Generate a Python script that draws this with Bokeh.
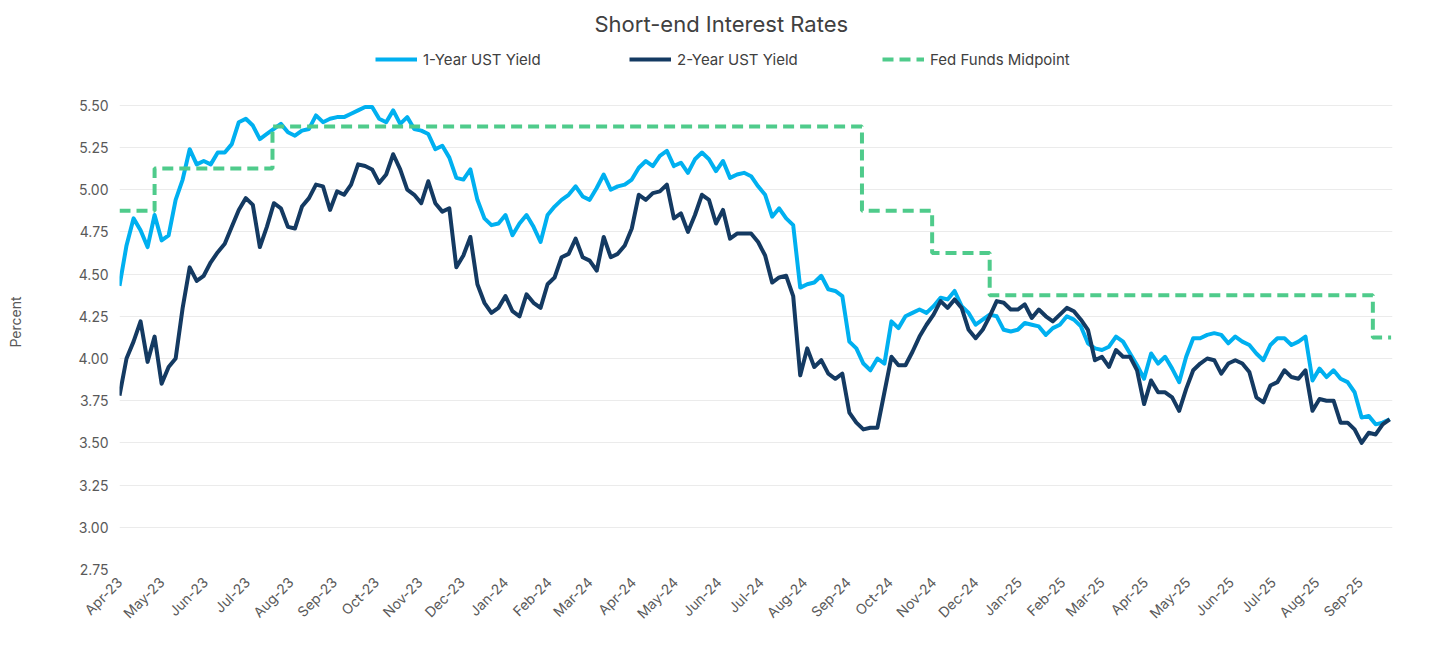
from math import pi
import pandas as pd
from bokeh.plotting import figure
from bokeh.layouts import row
from bokeh.models import (Range1d, FixedTicker, DatetimeTickFormatter, NumeralTickFormatter,
                          Legend, LegendItem, Label)
from bokeh.embed import file_html
from bokeh.resources import INLINE

# ---------------- data ----------------
START_DATE = "2023-04-08"   # first sample
STEP_DAYS = 5               # one reading every 5 calendar days

ONE_YEAR = [
    4.43, 4.67, 4.83, 4.76, 4.66, 4.85, 4.70, 4.73, 4.94, 5.06,
    5.24, 5.15, 5.17, 5.15, 5.22, 5.22, 5.27, 5.40, 5.42, 5.38,
    5.30, 5.33, 5.36, 5.39, 5.34, 5.32, 5.35, 5.36, 5.44, 5.40,
    5.42,
    5.43, 5.43, 5.45, 5.47, 5.49, 5.49, 5.42, 5.40, 5.47, 5.39,
    5.43, 5.36, 5.35, 5.33, 5.24, 5.26, 5.19, 5.07, 5.06, 5.12,
    4.94, 4.83, 4.79, 4.80, 4.85, 4.73, 4.80, 4.85, 4.78, 4.69,
    4.85,
    4.90, 4.94, 4.97, 5.02, 4.96, 4.94, 5.01, 5.09, 5.00, 5.02,
    5.03, 5.06, 5.13, 5.17, 5.14, 5.20, 5.23, 5.14, 5.16, 5.10,
    5.18, 5.22, 5.18, 5.11, 5.17, 5.07, 5.09, 5.10, 5.08,
    5.02,
    4.97, 4.84, 4.89, 4.83, 4.79, 4.42, 4.44, 4.45, 4.49, 4.41,
    4.40, 4.37, 4.10, 4.06, 3.97, 3.93, 4.00, 3.97, 4.22, 4.18,
    4.25, 4.27, 4.29, 4.27, 4.31, 4.36, 4.35, 4.40, 4.31, 4.27,
    4.20,
    4.23, 4.26, 4.25, 4.17, 4.16, 4.17, 4.21, 4.20, 4.19, 4.14,
    4.18, 4.20, 4.25, 4.23, 4.19, 4.09, 4.06, 4.05, 4.07, 4.13,
    4.10, 4.03, 3.96, 3.88, 4.03, 3.97, 4.01, 3.94, 3.86,
    4.01,
    4.12, 4.12, 4.14, 4.15, 4.14, 4.09, 4.13, 4.10, 4.08, 4.03,
    3.99, 4.08, 4.12, 4.12, 4.08, 4.10, 4.13, 3.87, 3.94, 3.89,
    3.93, 3.88, 3.86, 3.80, 3.65, 3.66, 3.61, 3.62, 3.64,
]

TWO_YEAR = [
    3.78, 4.00, 4.10, 4.22, 3.98, 4.13, 3.85, 3.95, 4.00, 4.30,
    4.54, 4.46, 4.49, 4.57, 4.63, 4.68, 4.78, 4.88, 4.95, 4.91,
    4.66, 4.78, 4.92, 4.89, 4.78, 4.77, 4.90, 4.95, 5.03, 5.02,
    4.88,
    4.99, 4.97, 5.03, 5.15, 5.14, 5.12, 5.04, 5.09, 5.21, 5.12,
    5.00, 4.97, 4.92, 5.05, 4.92, 4.87, 4.89, 4.54, 4.61, 4.72,
    4.44, 4.33, 4.27, 4.30, 4.37, 4.28, 4.25, 4.38, 4.33, 4.30,
    4.44,
    4.48, 4.60, 4.62, 4.71, 4.60, 4.58, 4.52, 4.72, 4.60, 4.62,
    4.67, 4.77, 4.97, 4.94, 4.98, 4.99, 5.03, 4.83, 4.86, 4.75,
    4.85, 4.97, 4.94, 4.80, 4.88, 4.71, 4.74, 4.74, 4.74,
    4.69,
    4.61, 4.45, 4.48, 4.49, 4.37, 3.90, 4.06, 3.95, 3.99, 3.91,
    3.88, 3.91, 3.68, 3.62, 3.58, 3.59, 3.59, 3.80, 4.01, 3.96,
    3.96, 4.04, 4.13, 4.20, 4.26, 4.34, 4.30, 4.35, 4.30, 4.17,
    4.12,
    4.17, 4.25, 4.34, 4.33, 4.29, 4.29, 4.32, 4.24, 4.29, 4.25,
    4.22, 4.26, 4.30, 4.28, 4.23, 4.17, 3.99, 4.01, 3.95, 4.05,
    4.01, 4.01, 3.93, 3.73, 3.87, 3.80, 3.80, 3.77, 3.69,
    3.82,
    3.93, 3.97, 4.00, 3.99, 3.91, 3.97, 3.99, 3.97, 3.92, 3.77,
    3.74, 3.84, 3.86, 3.93, 3.89, 3.88, 3.93, 3.69, 3.76, 3.75,
    3.75, 3.62, 3.62, 3.58, 3.50, 3.56, 3.55, 3.61, 3.64,
]

FED_DATES = ["2023-04-08", "2023-05-03", "2023-07-26", "2024-09-18",
             "2024-11-07", "2024-12-18", "2025-09-17", "2025-09-30"]
FED_MID = [4.875, 5.125, 5.375, 4.875, 4.625, 4.375, 4.125, 4.125]

TICK_LABELS = ["Apr-23", "May-23", "Jun-23", "Jul-23", "Aug-23", "Sep-23",
               "Oct-23", "Nov-23", "Dec-23", "Jan-24", "Feb-24", "Mar-24",
               "Apr-24", "May-24", "Jun-24", "Jul-24", "Aug-24", "Sep-24",
               "Oct-24", "Nov-24", "Dec-24", "Jan-25", "Feb-25", "Mar-25",
               "Apr-25", "May-25", "Jun-25", "Jul-25", "Aug-25", "Sep-25"]
TICK_DAY = 8
Y_TICKS = [2.75, 3.00, 3.25, 3.50, 3.75, 4.00, 4.25, 4.50, 4.75, 5.00, 5.25, 5.50]

SERIES_NAMES = ["1-Year UST Yield", "2-Year UST Yield", "Fed Funds Midpoint"]
TITLE = "Short-end Interest Rates"
Y_LABEL = "Percent"

# ---------------- layout / style ----------------
FONT = "Inter"
C_1Y = "#00B0F0"
C_2Y = "#143A62"
C_FED = "#4FCB8B"
LINE_W = 4

W, H = 1424, 645
LAB_W = 30                      # narrow strip holding the y-axis title
B_LEFT, B_RIGHT, B_TOP, B_BOTTOM = 119 - LAB_W, 32, 37, 76
PX_PER_UNIT = 168.8
Y_START = 2.75
Y_END = Y_START + (H - B_TOP - B_BOTTOM) / PX_PER_UNIT

dates = pd.date_range(START_DATE, periods=len(ONE_YEAR), freq=f"{STEP_DAYS}D")
fed_dates = pd.to_datetime(FED_DATES)
x_end = pd.Timestamp("2025-10-01")
tick_dates = pd.to_datetime([f"{TICK_DAY}-{t}" for t in TICK_LABELS], format="%d-%b-%y")
tick_ms = [int(t.value // 10**6) for t in tick_dates]

p = figure(width=W - LAB_W, height=H, x_axis_type="datetime", output_backend="svg",
           toolbar_location=None, min_border_left=B_LEFT, min_border_right=B_RIGHT,
           min_border_top=B_TOP, min_border_bottom=B_BOTTOM,
           x_range=Range1d(dates[0], x_end), y_range=Range1d(Y_START, Y_END))
p.outline_line_color = None
p.background_fill_color = "white"
p.border_fill_color = "white"

p.title.text = TITLE
p.title.align = "left"
p.title.offset = 475
p.title.standoff = 2
p.title.text_font = FONT
p.title.text_font_size = "22px"
p.title.text_font_style = "normal"
p.title.text_color = "#404040"

r1 = p.line(dates, ONE_YEAR, line_color=C_1Y, line_width=LINE_W, line_join="round")
r2 = p.line(dates, TWO_YEAR, line_color=C_2Y, line_width=LINE_W, line_join="round")
r3 = p.step(fed_dates, FED_MID, mode="after", line_color=C_FED, line_width=LINE_W,
            line_dash="11 6")

# grid
p.xgrid.grid_line_color = None
p.ygrid.grid_line_color = "#EBEBEB"
p.ygrid.grid_line_width = 1
p.ygrid.ticker = FixedTicker(ticks=Y_TICKS)

# y axis
ya = p.yaxis[0]
ya.ticker = FixedTicker(ticks=Y_TICKS)
ya.formatter = NumeralTickFormatter(format="0.00")
ya.axis_line_color = None
ya.major_tick_line_color = None
ya.minor_tick_line_color = None
ya.major_tick_out = 0
ya.major_label_standoff = 11
ya.major_label_text_font = FONT
ya.major_label_text_font_size = "14px"
ya.major_label_text_color = "#595959"

# x axis
xa = p.xaxis[0]
xa.ticker = FixedTicker(ticks=tick_ms)
xa.formatter = DatetimeTickFormatter(days="%b-%y", months="%b-%y", years="%b-%y",
                                     hours="%b-%y", hourmin="%b-%y")
xa.major_label_orientation = pi / 4
xa.axis_line_color = None
xa.major_tick_line_color = None
xa.minor_tick_line_color = None
xa.major_tick_out = 0
xa.major_label_standoff = 10
xa.major_label_text_font = FONT
xa.major_label_text_font_size = "14px"
xa.major_label_text_color = "#595959"

# legends (one per series, positioned above the series area)
LEG_X = [256, 510, 763]
for name, rend, lx in zip(SERIES_NAMES, [r1, r2, r3], LEG_X):
    lg = Legend(items=[LegendItem(label=name, renderers=[rend])],
                location=(lx, 500), orientation="horizontal",
                padding=0, margin=0, spacing=0,
                glyph_width=42, glyph_height=20, label_height=20, label_standoff=6,
                label_text_font=FONT, label_text_font_size="15px",
                label_text_color="#404040",
                border_line_color=None, background_fill_alpha=0)
    p.add_layout(lg)

# narrow strip on the left carrying the vertical y-axis title ("Percent"),
# its vertical scale is the canvas pixel row (top = 0)
lab = figure(width=LAB_W, height=H, output_backend="svg", toolbar_location=None,
             min_border=0, x_range=Range1d(0, LAB_W), y_range=Range1d(H, 0))
lab.axis.visible = False
lab.grid.grid_line_color = None
lab.outline_line_color = None
lab.border_fill_color = "white"
band_mid_px = B_TOP + (Y_END - (Y_TICKS[0] + Y_TICKS[-1]) / 2) * PX_PER_UNIT + 8
lab.add_layout(Label(x=15, y=band_mid_px, text=Y_LABEL, angle=pi / 2,
                     text_align="center", text_baseline="middle",
                     text_font=FONT, text_font_size="14px", text_color="#595959"))

layout = row(lab, p, spacing=0)
open("out.html", "w").write(file_html(layout, INLINE, title=TITLE))
